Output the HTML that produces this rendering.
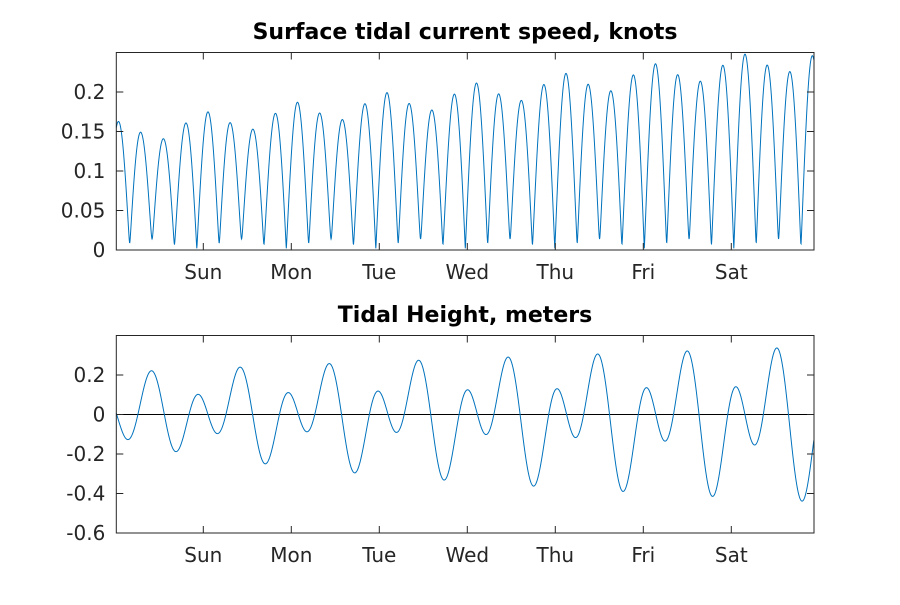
<!DOCTYPE html>
<html><head><meta charset="utf-8"><style>
html,body{margin:0;padding:0;background:#fff;}
svg text{font-family:"DejaVu Sans","Liberation Sans",sans-serif;fill:#262626;}
</style></head><body>
<svg id="s" width="900" height="600" xmlns="http://www.w3.org/2000/svg">
<rect width="900" height="600" fill="#fff"/>
<text x="465" y="39" font-size="22" font-weight="bold" text-anchor="middle" style="fill:#000">Surface tidal current speed, knots</text>
<text x="465" y="322" font-size="22" font-weight="bold" text-anchor="middle" style="fill:#000">Tidal Height, meters</text>
<g id="g"></g>
</svg>
<script>
var g=document.getElementById('g'),o='';
var L=116.3,R=814,T1=52.5,B1=250,T2=335.5,B2=533;
function y1(v){return B1-(v/0.25)*(B1-T1);}
function y2(v){return B2-((v+0.6)/1.0)*(B2-T2);}
var ws=2*Math.PI/44.75,wd=2*Math.PI/89.5;
function h(x){var u=(x-L)/(R-L);
var S=(0.285+0.25*u)/2,c=(0.025-0.09*u)/2,Dc=0.06+0.04*u,Ds=0.14*(1-Math.exp(-u/0.25));
return c+S*Math.cos(ws*(x-152))+Dc*Math.cos(wd*(x-152))-Ds*Math.sin(wd*(x-152));}
function sp(x){var M=0.1606+0.000136*(x-208);var E=M+0.0145*Math.cos(wd*(x-205));
var a=E*Math.cos(Math.PI*(x-208)/22.375);var m=0.008+0.006*Math.cos(wd*(x-150));return Math.sqrt(a*a+m*m);}
var p1='',p2='';
for(var x=L;x<=R;x+=0.25){p1+=(p1?'L':'M')+x.toFixed(2)+','+y1(sp(x)).toFixed(2);p2+=(p2?'L':'M')+x.toFixed(2)+','+y2(h(x)).toFixed(2);}
o+='<line x1="'+L+'" x2="'+R+'" y1="'+y2(0)+'" y2="'+y2(0)+'" stroke="#000" stroke-width="1"/>';
o+='<path d="'+p1+'" fill="none" stroke="#0072bd" stroke-width="1"/>';
o+='<path d="'+p2+'" fill="none" stroke="#0072bd" stroke-width="1"/>';
var days=['Sun','Mon','Tue','Wed','Thu','Fri','Sat'];
function axes(T,B,yt,yf,labs){
 o+='<rect x="'+L+'" y="'+T+'" width="'+(R-L)+'" height="'+(B-T)+'" fill="none" stroke="#262626" stroke-width="1"/>';
 for(var i=0;i<7;i++){var x=203.3+88*i;
  o+='<line x1="'+x+'" x2="'+x+'" y1="'+B+'" y2="'+(B-7)+'" stroke="#262626"/><line x1="'+x+'" x2="'+x+'" y1="'+T+'" y2="'+(T+7)+'" stroke="#262626"/>';
  o+='<text x="'+x+'" y="'+(B+29)+'" font-size="20" text-anchor="middle">'+days[i]+'</text>';}
 for(var j=0;j<yt.length;j++){var y=yf(yt[j]);
  o+='<line x1="'+L+'" x2="'+(L+7)+'" y1="'+y+'" y2="'+y+'" stroke="#262626"/><line x1="'+R+'" x2="'+(R-7)+'" y1="'+y+'" y2="'+y+'" stroke="#262626"/>';
  o+='<text x="'+(L-11)+'" y="'+(y+7)+'" font-size="20" text-anchor="end">'+labs[j]+'</text>';}
}
axes(T1,B1,[0,0.05,0.1,0.15,0.2],y1,['0','0.05','0.1','0.15','0.2']);
axes(T2,B2,[-0.6,-0.4,-0.2,0,0.2],y2,['-0.6','-0.4','-0.2','0','0.2']);
g.innerHTML=o;
</script>
</body></html>
